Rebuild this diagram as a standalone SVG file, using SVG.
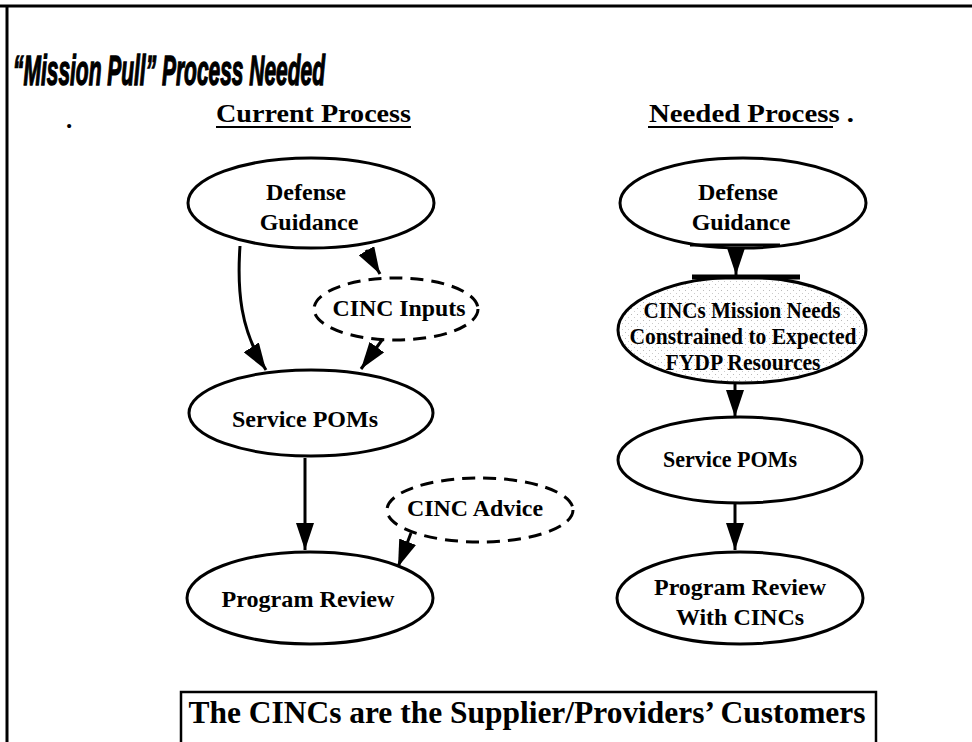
<svg xmlns="http://www.w3.org/2000/svg" width="972" height="742" viewBox="0 0 972 742">
<style>
.node{fill:#fff;stroke:#000;stroke-width:3}
.dash{fill:#fff;stroke:#000;stroke-width:3;stroke-dasharray:13 8}
.t{font-family:"Liberation Serif","Times New Roman",serif;font-weight:bold;font-size:24px;fill:#000;text-anchor:middle}
.conn{fill:none;stroke:#000;stroke-width:3}
.h{font-family:"Liberation Serif","Times New Roman",serif;font-weight:bold;font-size:25px;fill:#000}
</style>
<defs>
<marker id="ah" markerUnits="userSpaceOnUse" markerWidth="28" markerHeight="18" refX="27" refY="9" orient="auto">
<path d="M0,0 L27,9 L0,18 z" fill="#000"/>
</marker>
<pattern id="stip" width="6" height="6" patternUnits="userSpaceOnUse">
<rect width="6" height="6" fill="#fff"/>
<rect x="1" y="2" width="1" height="1" fill="#bbb"/>
<rect x="4" y="5" width="1" height="1" fill="#ccc"/>
</pattern>
</defs>
<rect width="972" height="742" fill="#fff"/>
<g id="frame">
<line x1="0" y1="6" x2="972" y2="6" stroke="#000" stroke-width="3"/>
<line x1="7" y1="5" x2="7" y2="742" stroke="#000" stroke-width="3"/>
</g>
<g id="title">
<text x="13" y="85" font-family="'Liberation Sans',Arial,sans-serif" font-weight="bold" font-style="italic" font-size="42" stroke="#000" stroke-width="1.4" textLength="312" lengthAdjust="spacingAndGlyphs">“Mission Pull” Process Needed</text>
</g>
<g id="headers">
<text class="h" x="216" y="122" textLength="195" lengthAdjust="spacingAndGlyphs">Current Process</text>
<line x1="216" y1="127" x2="411" y2="127" stroke="#000" stroke-width="2"/>
<text class="h" x="649" y="122" textLength="205" lengthAdjust="spacingAndGlyphs">Needed Process .</text>
<line x1="648" y1="127" x2="833" y2="127" stroke="#000" stroke-width="2"/>
<text class="h" x="66" y="128">.</text>
</g>
<g id="connectors">
<path class="conn" d="M240 246 C237 290 240 330 266 370" marker-end="url(#ah)"/>
<path class="conn" d="M366 250 L380 274" marker-end="url(#ah)"/>
<path class="conn" d="M382 340 L361 369" marker-end="url(#ah)"/>
<path class="conn" d="M305 458 L305 550" marker-end="url(#ah)"/>
<path class="conn" d="M411 533 L398 567" marker-end="url(#ah)"/>
<path class="conn" d="M736 248 L736 275" marker-end="url(#ah)"/>
<path class="conn" d="M735 380 L735 417" marker-end="url(#ah)"/>
<path class="conn" d="M735 503 L735 550" marker-end="url(#ah)"/>
</g>
<g id="cur-defense">
<ellipse class="node" cx="311" cy="203" rx="123" ry="45"/>
<text class="t" x="306" y="200">Defense</text>
<text class="t" x="309" y="230">Guidance</text>
</g>
<g id="cur-cinc-inputs">
<ellipse class="dash" cx="396" cy="309" rx="82" ry="31"/>
<text class="t" x="399" y="316" textLength="133" lengthAdjust="spacingAndGlyphs">CINC Inputs</text>
</g>
<g id="cur-service-poms">
<ellipse class="node" cx="311" cy="413" rx="122" ry="43"/>
<text class="t" x="305" y="427" textLength="146" lengthAdjust="spacingAndGlyphs">Service POMs</text>
</g>
<g id="cur-cinc-advice">
<ellipse class="dash" cx="480" cy="510" rx="93" ry="32"/>
<text class="t" x="475" y="516" textLength="136" lengthAdjust="spacingAndGlyphs">CINC Advice</text>
</g>
<g id="cur-program-review">
<ellipse class="node" cx="310" cy="598" rx="123" ry="46"/>
<text class="t" x="308" y="607" textLength="173" lengthAdjust="spacingAndGlyphs">Program Review</text>
</g>
<g id="need-defense">
<ellipse class="node" cx="743" cy="203" rx="123" ry="45"/>
<text class="t" x="738" y="200">Defense</text>
<text class="t" x="741" y="230">Guidance</text>
<line x1="690" y1="245" x2="780" y2="245" stroke="#000" stroke-width="3"/>
</g>
<g id="need-cincs-mission">
<ellipse cx="742" cy="330" rx="124" ry="53" fill="url(#stip)" stroke="#000" stroke-width="3"/>
<line x1="692" y1="277" x2="800" y2="277" stroke="#000" stroke-width="5"/>
<text class="t" x="742" y="318" font-size="21" textLength="197" lengthAdjust="spacingAndGlyphs">CINCs Mission Needs</text>
<text class="t" x="743" y="344" font-size="21" textLength="227" lengthAdjust="spacingAndGlyphs">Constrained to Expected</text>
<text class="t" x="743" y="370" font-size="21" textLength="155" lengthAdjust="spacingAndGlyphs">FYDP Resources</text>
</g>
<g id="need-service-poms">
<ellipse class="node" cx="740" cy="460" rx="122" ry="43"/>
<text class="t" x="730" y="467" textLength="134" lengthAdjust="spacingAndGlyphs">Service   POMs</text>
</g>
<g id="need-program-review">
<ellipse class="node" cx="740" cy="598" rx="123" ry="46"/>
<text class="t" x="740" y="595" textLength="172" lengthAdjust="spacingAndGlyphs">Program Review</text>
<text class="t" x="740" y="625">With CINCs</text>
</g>
<g id="footer">
<path d="M181 742 L181 692 L876 692 L876 742" fill="none" stroke="#000" stroke-width="2.5"/>
<text x="527" y="723" font-family="'Liberation Serif','Times New Roman',serif" font-weight="bold" font-size="31" text-anchor="middle" textLength="677" lengthAdjust="spacingAndGlyphs">The CINCs are the Supplier/Providers’ Customers</text>
</g>
</svg>
